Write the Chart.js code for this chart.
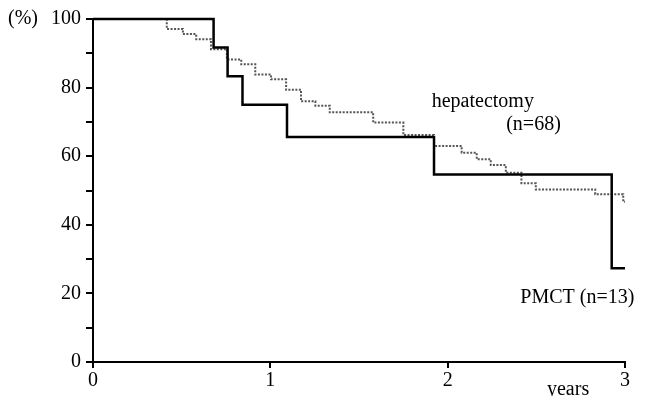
<!DOCTYPE html>
<html>
<head>
<meta charset="utf-8">
<script src="https://cdn.jsdelivr.net/npm/chart.js@4"></script>
<style>
  html, body { margin: 0; padding: 0; background: #fff; }
  #wrap { width: 647px; height: 396px; position: relative; }
</style>
</head>
<body>
<div id="wrap"><canvas id="c" width="647" height="396"></canvas></div>
<script>
// Kaplan-Meier survival (%), time in years
const hepTimes    = [0, 0.416, 0.507, 0.582, 0.665, 0.755, 0.836, 0.915, 1.004, 1.089, 1.173, 1.254, 1.335, 1.580, 1.750, 1.923, 2.079, 2.164, 2.243, 2.328, 2.416, 2.497, 2.832, 2.99, 3.0];
const hepSurvival = [100, 97.1, 95.6, 94.1, 91.2, 88.2, 86.8, 83.8, 82.4, 79.4, 76.0, 74.7, 72.8, 69.8, 66.2, 63.0, 61.0, 59.1, 57.4, 55.2, 52.1, 50.3, 48.9, 46.7, 46.7];
const pmctTimes    = [0, 0.680, 0.759, 0.843, 1.094, 1.923, 2.925, 3.0];
const pmctSurvival = [100, 91.7, 83.3, 75.0, 65.6, 54.7, 27.3, 27.3];
const yTickLabels = ['0', '20', '40', '60', '80', '100'];
const xTickLabels = ['0', '1', '2', '3'];

const toPoints = (ts, vs) => ts.map((t, i) => ({ x: t, y: vs[i] }));
const FONT = "'Liberation Serif', 'DejaVu Serif', serif";

const textPlugin = {
  id: 'texts',
  afterDraw(chart) {
    const { ctx, scales: { x, y } } = chart;
    ctx.save();
    ctx.fillStyle = '#000';
    ctx.font = '20px ' + FONT;
    ctx.textBaseline = 'middle';
    ctx.textAlign = 'left';
    ctx.fillText('(%)', 8, y.getPixelForValue(100));
    ctx.fillText('hepatectomy', x.getPixelForValue(1.91), y.getPixelForValue(66) - 34);
    ctx.fillText('(n=68)', x.getPixelForValue(2.33), y.getPixelForValue(66) - 11);
    ctx.fillText('PMCT (n=13)', x.getPixelForValue(2.41), y.getPixelForValue(18.6));
    ctx.textBaseline = 'alphabetic';
    ctx.fillText('years', x.getPixelForValue(2.56), 395);
    ctx.restore();
  }
};

new Chart(document.getElementById('c'), {
  type: 'line',
  data: {
    datasets: [
      {
        label: 'hepatectomy (n=68)',
        data: toPoints(hepTimes, hepSurvival),
        stepped: 'before',
        borderColor: '#555',
        borderWidth: 2,
        borderDash: [2, 1.5],
        pointRadius: 0,
        fill: false,
        order: 2,
        clip: 6
      },
      {
        label: 'PMCT (n=13)',
        data: toPoints(pmctTimes, pmctSurvival),
        stepped: 'before',
        borderColor: '#000',
        borderWidth: 2.5,
        pointRadius: 0,
        fill: false,
        order: 1,
        clip: 6
      }
    ]
  },
  options: {
    responsive: false,
    animation: false,
    events: [],
    layout: { padding: { top: 19, right: 22, left: 0, bottom: 0 } },
    plugins: { legend: { display: false }, tooltip: { enabled: false } },
    scales: {
      x: {
        type: 'linear',
        min: 0, max: 3,
        afterFit(s) { s.height = 34; },
        afterBuildTicks(s) { s.ticks = xTickLabels.map(v => ({ value: Number(v) })); },
        ticks: {
          color: '#000',
          font: { family: FONT, size: 20 },
          padding: 1,
          maxRotation: 0,
          callback: (v) => String(v)
        },
        grid: { drawOnChartArea: false, color: '#000', lineWidth: 2, tickLength: 6 },
        border: { display: true, color: '#000', width: 2 }
      },
      y: {
        min: 0, max: 100,
        afterFit(s) { s.width = 93; },
        afterBuildTicks(s) {
          const t = [];
          for (let v = 0; v <= 100; v += 10) t.push({ value: v });
          s.ticks = t;
        },
        ticks: {
          color: '#000',
          font: { family: FONT, size: 20 },
          padding: 5,
          callback: (v) => yTickLabels.includes(String(v)) ? String(v) : ''
        },
        grid: { drawOnChartArea: false, color: '#000', lineWidth: 2, tickLength: 7 },
        border: { display: true, color: '#000', width: 2 }
      }
    }
  },
  plugins: [textPlugin]
});
</script>
</body>
</html>
